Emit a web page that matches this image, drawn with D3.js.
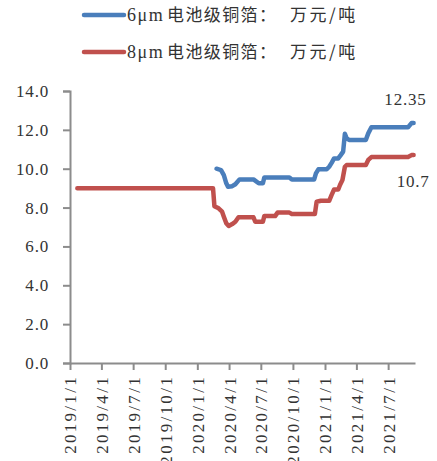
<!DOCTYPE html>
<html>
<head>
<meta charset="utf-8">
<script src="https://cdn.jsdelivr.net/npm/d3@7"></script>
<style>
  html, body { margin: 0; padding: 0; background: #fff; }
  svg { display: block; }
  text { font-family: "Liberation Serif", "Times New Roman", serif; }
</style>
</head>
<body>
<svg id="chart" width="437" height="461" font-family="Liberation Serif"></svg>
<script>
// Legend entries: thickness label, product name, unit
const seriesSizes = ["6μm", "8μm"];
const seriesProduct = "电池级铜箔：";
const seriesUnit = "万元/吨";

// 6μm battery-grade copper foil price (10k yuan / ton)
const dates6 = [
  "2020-02-25","2020-03-09","2020-03-17","2020-03-24","2020-03-29","2020-04-10","2020-04-19","2020-05-01",
  "2020-06-10","2020-06-25","2020-07-07","2020-07-11","2020-09-21","2020-09-28","2020-12-01","2020-12-06",
  "2020-12-13","2021-01-06","2021-01-13","2021-01-20","2021-01-27","2021-02-08","2021-02-15","2021-02-22",
  "2021-02-27","2021-03-04","2021-03-11","2021-04-28","2021-05-05","2021-05-14","2021-08-27","2021-09-06",
  "2021-09-12"
];
const values6 = [
  10.0, 9.93, 9.67, 9.25, 9.07, 9.1, 9.2, 9.45,
  9.45, 9.25, 9.25, 9.55, 9.55, 9.45, 9.45, 9.76,
  9.97, 9.97, 10.1, 10.3, 10.53, 10.53, 10.7, 10.88,
  11.8, 11.56, 11.48, 11.48, 11.82, 12.13, 12.13, 12.35,
  12.35
];

// 8μm battery-grade copper foil price (10k yuan / ton)
const dates8 = [
  "2019-01-22","2020-02-15","2020-02-19","2020-03-02","2020-03-12","2020-03-17","2020-03-24","2020-03-31",
  "2020-04-10","2020-04-19","2020-04-28","2020-06-10","2020-06-15","2020-07-07","2020-07-11","2020-08-11",
  "2020-08-18","2020-09-21","2020-09-28","2020-12-03","2020-12-08","2020-12-20","2021-01-13","2021-01-20",
  "2021-01-27","2021-02-08","2021-02-13","2021-02-20","2021-02-27","2021-03-04","2021-04-28","2021-05-05",
  "2021-05-14","2021-08-27","2021-09-06","2021-09-12"
];
const values8 = [
  9.0, 9.0, 8.07, 7.96, 7.79, 7.53, 7.19, 7.05,
  7.15, 7.27, 7.5, 7.5, 7.27, 7.27, 7.56, 7.56,
  7.74, 7.74, 7.67, 7.67, 8.3, 8.35, 8.35, 8.65,
  8.93, 8.93, 9.16, 9.42, 10.1, 10.19, 10.19, 10.45,
  10.6, 10.6, 10.7, 10.7
];

// Axis ticks
const xTickLabels = ["2019/1/1","2019/4/1","2019/7/1","2019/10/1","2020/1/1","2020/4/1",
                     "2020/7/1","2020/10/1","2021/1/1","2021/4/1","2021/7/1"];
const yTickValues = [0, 2, 4, 6, 8, 10, 12, 14];

const colors = ["#4a7ebb", "#c0504d"];
const serif = "Liberation Serif";
const cjk = "Noto Sans CJK SC";
const textColor = "#333";

const parseISO = d3.timeParse("%Y-%m-%d");
const parseTick = s => { const [y, m, d] = s.split("/").map(Number); return new Date(y, m - 1, d); };

const svg = d3.select("#chart");

const x = d3.scaleTime()
  .domain([new Date(2019, 0, 1), new Date(2021, 8, 16)])
  .range([70, 415]);
const y = d3.scaleLinear().domain([0, 14]).range([363, 91]);

const axisColor = "#8c8c8c";

// Y axis
const yAxis = svg.append("g")
  .attr("transform", `translate(${x.range()[0]},0)`)
  .call(d3.axisLeft(y).tickValues(yTickValues).tickFormat(d3.format(".1f")).tickSize(7).tickPadding(14));
yAxis.attr("font-family", serif).attr("font-size", 17);
yAxis.select(".domain").attr("stroke", axisColor).attr("stroke-width", 2);
yAxis.selectAll(".tick line").attr("stroke", axisColor).attr("stroke-width", 2);
yAxis.selectAll(".tick text")
  .attr("fill", textColor)
  .attr("letter-spacing", "0.8px");

// X axis
const xAxis = svg.append("g")
  .attr("transform", `translate(0,${y(0)})`)
  .call(d3.axisBottom(x).tickValues(xTickLabels.map(parseTick))
    .tickFormat((d, i) => xTickLabels[i]).tickSize(7).tickSizeOuter(0));
xAxis.attr("font-family", serif).attr("font-size", 17);
xAxis.select(".domain").attr("stroke", axisColor).attr("stroke-width", 2);
xAxis.selectAll(".tick line").attr("stroke", axisColor).attr("stroke-width", 2);
xAxis.selectAll(".tick text")
  .attr("fill", textColor)
  .attr("letter-spacing", "2.3px")
  .attr("transform", "rotate(-90)")
  .attr("text-anchor", "end")
  .attr("x", -12).attr("y", 0).attr("dy", "0.35em");

// Price lines
const series = [
  { dates: dates6, values: values6 },
  { dates: dates8, values: values8 }
];
const line = d3.line().x(d => x(d[0])).y(d => y(d[1]));

series.forEach((s, i) => {
  const pts = s.dates.map((d, j) => [parseISO(d), s.values[j]]);
  svg.append("path")
    .datum(pts)
    .attr("d", line)
    .attr("fill", "none")
    .attr("stroke", colors[i])
    .attr("stroke-width", 4.5)
    .attr("stroke-linejoin", "round")
    .attr("stroke-linecap", "round");
});

// End value labels
const last6 = values6[values6.length - 1];
const last8 = values8[values8.length - 1];
const lastX = x(parseISO(dates6[dates6.length - 1]));
[[last6, -18, 13], [last8, 32, 16]].forEach(([v, dy, dx]) => {
  svg.append("text")
    .attr("x", lastX + dx).attr("y", y(v) + dy)
    .attr("text-anchor", "end")
    .attr("fill", textColor)
    .attr("font-family", serif).attr("font-size", 17)
    .attr("letter-spacing", "0.8px")
    .text(String(v));
});

// Legend
const legend = svg.append("g");
seriesSizes.forEach((size, i) => {
  const ly = 15 + i * 37;
  legend.append("line")
    .attr("x1", 84).attr("x2", 124).attr("y1", ly).attr("y2", ly)
    .attr("stroke", colors[i]).attr("stroke-width", 4.5).attr("stroke-linecap", "round");
  const t = legend.append("text")
    .attr("x", 127).attr("y", ly).attr("dy", "0.35em")
    .attr("fill", textColor).attr("font-size", 17);
  t.append("tspan").attr("font-family", serif).attr("font-size", 18)
    .attr("letter-spacing", "1.5px").text(size);
  t.append("tspan").attr("font-family", cjk).attr("x", 167)
    .attr("letter-spacing", "1.4px").text(seriesProduct);
  t.append("tspan").attr("font-family", cjk).attr("x", 290)
    .attr("letter-spacing", "2.5px").text(seriesUnit);
});
</script>
</body>
</html>
